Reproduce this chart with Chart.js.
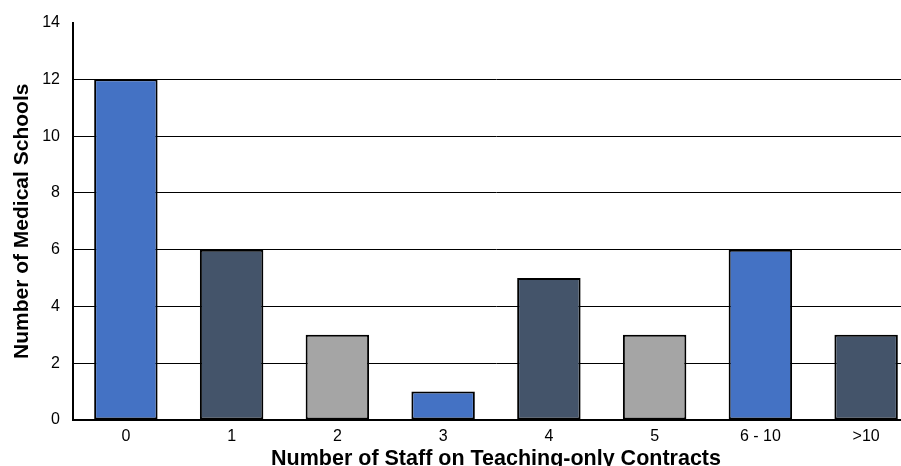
<!DOCTYPE html>
<html>
<head>
<meta charset="utf-8">
<script src="https://cdn.jsdelivr.net/npm/chart.js@4/dist/chart.umd.min.js"></script>
<style>
  html, body { margin: 0; padding: 0; overflow: hidden; background: #fff; }
  #wrap { width: 920px; height: 472px; }
</style>
</head>
<body>
<div id="wrap"><canvas id="staffChart"></canvas></div>
<script>
const categories = ["0", "1", "2", "3", "4", "5", "6 - 10", ">10"];
const schoolCounts = [12, 6, 3, 1, 5, 3, 6, 3];
const barColors = ["#4472C4", "#44546A", "#A5A5A5", "#4472C4", "#44546A", "#A5A5A5", "#4472C4", "#44546A"];
const yTicks = [0, 2, 4, 6, 8, 10, 12, 14];

const ctx = document.getElementById("staffChart").getContext("2d");

new Chart(ctx, {
  type: "bar",
  data: {
    labels: categories,
    datasets: [
      {
        label: "Medical Schools",
        data: schoolCounts,
        backgroundColor: barColors,
        borderColor: "#000000",
        borderWidth: 2,
        borderSkipped: false,
        barPercentage: 0.6,
        categoryPercentage: 1,
      },
    ],
  },
  options: {
    responsive: true,
    maintainAspectRatio: false,
    animation: false,
    layout: { padding: { top: 14, right: 1, bottom: 0, left: 7 } },
    plugins: {
      legend: { display: false },
      tooltip: { enabled: false },
    },
    scales: {
      x: {
        grid: { display: false, drawTicks: false },
        border: { display: true, color: "#000", width: 2 },
        ticks: {
          color: "#000",
          padding: 7,
          font: { family: "Liberation Sans", size: 16 },
        },
        title: {
          display: true,
          text: "Number of Staff on Teaching-only Contracts",
          color: "#000",
          padding: { top: -7, bottom: 0 },
          font: { family: "Liberation Sans", size: 21.5, weight: "bold" },
        },
      },
      y: {
        min: 0,
        max: 14,
        afterBuildTicks: (axis) => {
          axis.ticks = yTicks.map((v) => ({ value: v }));
        },
        grid: {
          drawTicks: false,
          color: (c) => (c.tick && c.tick.value === 14 ? "rgba(0,0,0,0)" : "#000"),
          lineWidth: 1,
        },
        border: { display: true, color: "#000", width: 2 },
        ticks: {
          color: "#000",
          padding: 13,
          font: { family: "Liberation Sans", size: 16 },
        },
        title: {
          display: true,
          text: "Number of Medical Schools",
          color: "#000",
          padding: { top: 3, bottom: -6 },
          font: { family: "Liberation Sans", size: 21, weight: "bold" },
        },
      },
    },
  },
});
</script>
</body>
</html>
